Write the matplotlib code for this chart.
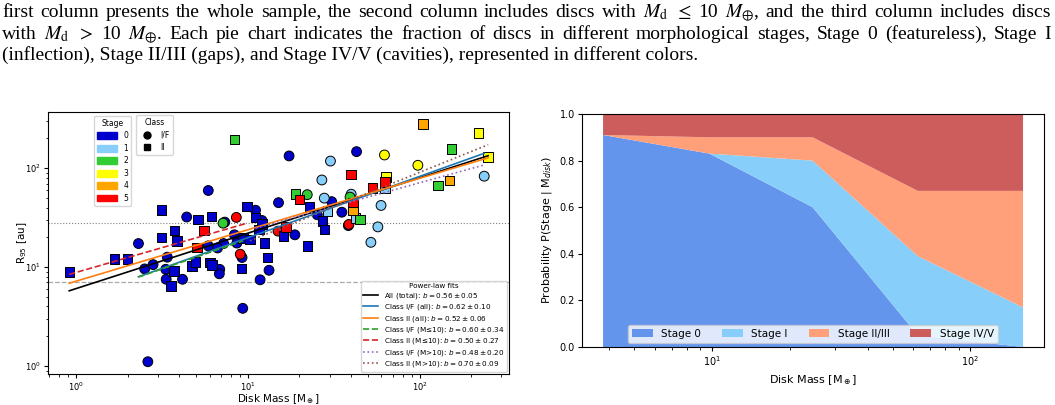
import matplotlib
matplotlib.use('Agg')
import matplotlib.pyplot as plt
import numpy as np
from matplotlib.lines import Line2D
from matplotlib.patches import Patch

# ---- scatter data ----
# Class I/F discs (circles): disk mass [M_earth], R95 [au], stage
mass_if = [5.89, 4.41, 7.35, 11.1, 15.1, 12.1, 2.31, 5.89, 8.36, 8.64, 7.23, 6.67,
           2.51, 2.81, 3.40, 3.33, 3.35, 4.17, 6.87, 6.83, 9.26, 9.35, 11.8, 13.3,
           2.62, 17.4, 43.0, 30.8, 25.4, 18.8, 35.3, 38.5,
           30.3, 27.0, 27.9, 40.0, 59.7, 57.2, 52.1, 238,
           7.18, 22.2, 39.4,
           62.5, 97.8,
           8.58, 15.0, 9.04, 38.8]
r95_if = [59.5, 32.1, 28.5, 37.6, 44.8, 29.6, 17.3, 16.4, 21.2, 17.5, 17.3, 15.6,
          9.59, 10.6, 12.6, 9.50, 7.53, 7.53, 9.48, 8.56, 12.5, 3.83, 7.44, 9.29,
          1.105, 133, 147, 45.9, 33.8, 21.2, 35.9, 26.3,
          118, 76.0, 49.8, 54.6, 42.0, 25.5, 17.8, 83.0,
          27.8, 54.0, 51.0,
          136, 107,
          31.8, 23.1, 13.5, 27.0]
stage_if = [0] * 32 + [1] * 8 + [2] * 3 + [3] * 2 + [5] * 4

# Class II discs (squares)
mass_ii = [3.15, 5.13, 6.17, 3.74, 3.15, 3.87, 1.68, 2.00, 0.913, 3.72, 4.73, 4.98,
           6.03, 6.18, 3.57, 9.87, 11.1, 12.1, 11.6, 9.39, 10.3, 12.5, 9.18, 13.0,
           22.8, 27.3, 27.9, 16.1, 22.3,
           29.1, 63.0, 42.3,
           8.34, 19.0, 45.1, 128, 154,
           221, 251, 63.9,
           105, 149, 40.9,
           5.57, 5.05, 19.95, 16.7, 40.0, 62.8, 53.2, 40.9]
r95_ii = [37.9, 30.2, 32.4, 23.5, 20.0, 18.3, 12.1, 12.1, 8.94, 9.15, 10.3, 11.3,
          11.2, 10.5, 6.47, 40.8, 31.8, 27.4, 23.9, 19.6, 18.9, 17.6, 9.70, 12.5,
          41.1, 29.3, 23.9, 20.6, 16.3,
          36.8, 63.2, 31.3,
          194, 54.9, 30.3, 66.9, 156,
          227, 130, 81.1,
          280, 75.1, 37.9,
          23.3, 15.7, 48.3, 25.5, 86.9, 72.2, 62.8, 45.0]
stage_ii = [0] * 29 + [1] * 3 + [2] * 5 + [3] * 3 + [4] * 3 + [5] * 8

stage_colors = ['#0000cd', '#87cefa', '#32cd32', '#ffff00', '#ffa500', '#ff0000']

# power-law fits R = A * M^b
fit_names = ['All (total)', 'Class I/F (all)', 'Class II (all)', 'Class I/F (M≤10)',
             'Class II (M≤10)', 'Class I/F (M>10)', 'Class II (M>10)']
fit_b = [0.56, 0.62, 0.52, 0.60, 0.50, 0.48, 0.70]
fit_err = [0.05, 0.10, 0.06, 0.34, 0.27, 0.20, 0.09]
fit_amp = [6.06, 4.75, 7.2, 4.8, 8.83, 7.8, 3.61]
fit_colors = ['black', 'C0', 'C1', 'C2', 'C3', 'C4', 'C5']
fit_styles = ['-', '-', '-', '--', '--', ':', ':']

# ---- stage probability vs disk mass ----
bin_mass = [3.78, 9.76, 24.5, 62.6, 160]
p_stage0 = [0.91, 0.83, 0.60, 0.05, 0.00]
p_stage1 = [0.00, 0.00, 0.20, 0.34, 0.17]
p_stage23 = [0.00, 0.07, 0.10, 0.28, 0.50]
p_stage45 = [0.09, 0.10, 0.10, 0.33, 0.33]
prob_labels = ['Stage 0', 'Stage I', 'Stage II/III', 'Stage IV/V']
prob_colors = ['cornflowerblue', 'lightskyblue', 'lightsalmon', 'indianred']

caption = [
    'first column presents the whole sample, the second column includes discs with '
    '$M_\\mathrm{d}$ $\\leq$ 10 $M_{\\oplus}$, and the third column includes discs',
    'with $M_\\mathrm{d}$ $>$ 10 $M_{\\oplus}$. Each pie chart indicates the fraction of discs '
    'in different morphological stages, Stage 0 (featureless), Stage I',
    '(inflection), Stage II/III (gaps), and Stage IV/V (cavities), represented in different colors.',
]
caption_size = 14

fig = plt.figure(figsize=(10.55, 4.05), dpi=100)


def justify(line, y, x0, x1, size):
    # place every word so the line fills x0..x1 (figure fraction)
    words = line.split(' ')
    r = fig.canvas.get_renderer()
    texts = [fig.text(0, y, w, fontsize=size, family='Liberation Serif',
                      math_fontfamily='stix', va='baseline') for w in words]
    widths = [t.get_window_extent(renderer=r).width for t in texts]
    W = fig.bbox.width
    gap = ((x1 - x0) * W - sum(widths)) / (len(words) - 1)
    x = x0 * W
    for t, w in zip(texts, widths):
        t.set_x(x / W)
        x += w + gap


justify(caption[0], 1 - 17 / 405, 0.002, 0.996, caption_size)
justify(caption[1], 1 - 39 / 405, 0.002, 0.996, caption_size)
fig.text(0.002, 1 - 60 / 405, caption[2], fontsize=caption_size, family='Liberation Serif',
         math_fontfamily='stix', va='baseline')

# ---- left panel: R95 vs disk mass ----
ax1 = fig.add_axes([0.0455, 0.0765, 0.437, 0.647])
ax1.set_xscale('log')
ax1.set_yscale('log')

ax1.scatter(mass_if, r95_if, c=[stage_colors[s] for s in stage_if], marker='o',
            s=50, edgecolors='black', linewidths=0.7, zorder=3)
ax1.scatter(mass_ii, r95_ii, c=[stage_colors[s] for s in stage_ii], marker='s',
            s=46, edgecolors='black', linewidths=0.7, zorder=3)

ax1.axhline(28, color='gray', ls=':', lw=0.8, zorder=1)
ax1.axhline(7, color='darkgray', ls='--', lw=0.9, zorder=1)

m_if = np.array(mass_if)
m_ii = np.array(mass_ii)
m_all = np.concatenate([m_if, m_ii])
subsets = [m_all, m_if, m_ii, m_if[m_if <= 10], m_ii[m_ii <= 10],
           m_if[m_if > 10], m_ii[m_ii > 10]]
fit_handles = []
for name, b, e, a, col, ls, sub in zip(fit_names, fit_b, fit_err, fit_amp,
                                       fit_colors, fit_styles, subsets):
    xx = np.logspace(np.log10(sub.min()), np.log10(sub.max()), 50)
    h, = ax1.plot(xx, a * xx ** b, color=col, ls=ls, lw=1.2, zorder=4,
                  label=f'{name}: $b = {b:.2f} \\pm {e:.2f}$')
    fit_handles.append(h)

ax1.set_xlim(0.687, 332)
ax1.set_ylim(0.83, 370)
ax1.set_xlabel('Disk Mass [M$_\\oplus$]', fontsize=7.5, labelpad=-1)
ax1.set_ylabel('R$_{95}$ [au]', fontsize=7.5, labelpad=-3)
ax1.tick_params(labelsize=6, length=3, pad=2)
ax1.tick_params(which='minor', length=1.8)

stage_handles = [Patch(color=c, label=str(i)) for i, c in enumerate(stage_colors)]
leg1 = ax1.legend(handles=stage_handles, title='Stage', loc='upper left',
                  bbox_to_anchor=(0.1, 0.985), borderaxespad=0, fontsize=5.5,
                  title_fontsize=5.5, handlelength=2.6, handleheight=1.0,
                  labelspacing=0.45)
ax1.add_artist(leg1)
class_handles = [Line2D([], [], marker='o', color='black', ls='', markersize=5, label='I/F'),
                 Line2D([], [], marker='s', color='black', ls='', markersize=5, label='II')]
leg2 = ax1.legend(handles=class_handles, title='Class', loc='upper left',
                  bbox_to_anchor=(0.191, 0.989), borderaxespad=0, fontsize=5.5,
                  title_fontsize=5.5, labelspacing=0.45)
ax1.add_artist(leg2)
ax1.legend(handles=fit_handles, title='Power-law fits', loc='lower right',
           fontsize=5.2, title_fontsize=5.2, borderaxespad=0.3, labelspacing=0.2,
           borderpad=0.35)

# ---- right panel: stacked probabilities ----
ax2 = fig.add_axes([0.5517, 0.1432, 0.4379, 0.5753])
ax2.stackplot(bin_mass, p_stage0, p_stage1, p_stage23, p_stage45,
              labels=prob_labels, colors=prob_colors)
ax2.set_xscale('log')
ax2.set_ylim(0, 1)
ax2.set_xlabel('Disk Mass [M$_\\oplus$]', fontsize=8)
ax2.set_ylabel('Probability P(Stage | M$_{disk}$)', fontsize=8)
ax2.tick_params(labelsize=7, length=3, pad=2)
ax2.tick_params(which='minor', length=1.8)
ax2.legend(loc='lower center', ncol=4, fontsize=7.5, borderaxespad=0.4)

fig.savefig('out.png', dpi=100)
